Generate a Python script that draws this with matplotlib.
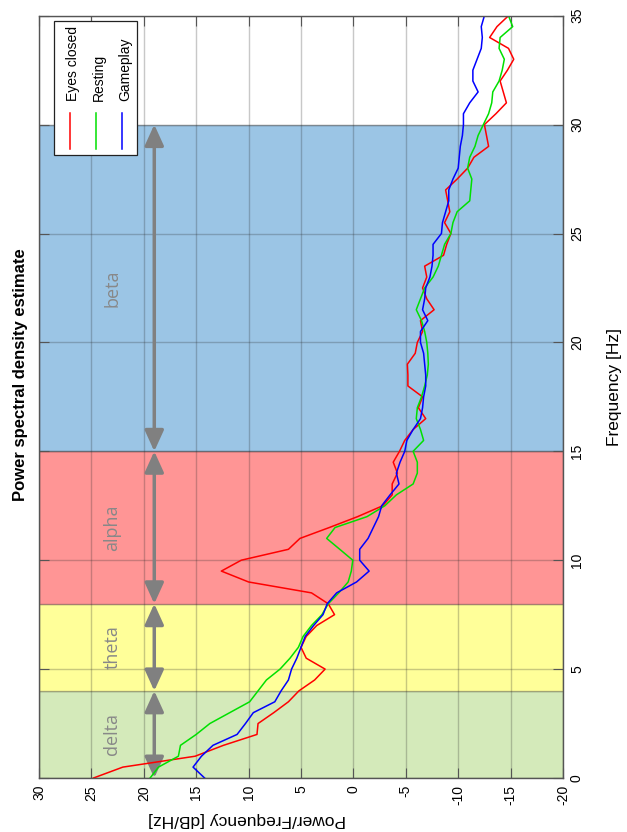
import numpy as np
import matplotlib
matplotlib.use('Agg')
import matplotlib.pyplot as plt
from matplotlib.patches import Rectangle
from matplotlib.lines import Line2D

plt.rcParams['font.family'] = ['Liberation Sans', 'DejaVu Sans']
plt.rcParams['axes.unicode_minus'] = False

# PSD estimates, 0.5 Hz bins, dB/Hz
freq = [0.0, 0.5, 1.0, 1.5, 2.0, 2.5, 3.0, 3.5, 4.0, 4.5,
        5.0, 5.5, 6.0, 6.5, 7.0, 7.5, 8.0, 8.5, 9.0, 9.5,
        10.0, 10.5, 11.0, 11.5, 12.0, 12.5, 13.0, 13.5, 14.0, 14.5,
        15.0, 15.5, 16.0, 16.5, 17.0, 17.5, 18.0, 18.5, 19.0, 19.5,
        20.0, 20.5, 21.0, 21.5, 22.0, 22.5, 23.0, 23.5, 24.0, 24.5,
        25.0, 25.5, 26.0, 26.5, 27.0, 27.5, 28.0, 28.5, 29.0, 29.5,
        30.0, 30.5, 31.0, 31.5, 32.0, 32.5, 33.0, 33.5, 34.0, 34.5, 35.0]

eyes_closed = [24.8, 22.0, 15.1, 12.4, 9.2, 9.1, 7.6, 6.2, 5.2, 3.7,
               2.7, 4.5, 5.0, 4.5, 3.5, 1.8, 2.4, 4.0, 10.0, 12.6,
               10.7, 6.2, 5.1, 2.3, -0.4, -2.8, -3.7, -3.7, -4.2, -3.8,
               -4.4, -4.9, -5.7, -6.9, -6.2, -6.6, -5.2, -5.2, -5.15, -5.9,
               -6.1, -6.6, -6.4, -7.7, -7.0, -6.6, -7.0, -6.8, -8.6, -8.9,
               -9.3, -8.7, -9.2, -9.0, -8.8, -9.9, -10.9, -11.5, -12.9, -12.7,
               -12.5, -13.6, -14.6, -14.3, -14.0, -14.7, -15.3, -14.8, -13.0, -13.7, -14.8]

resting = [19.4, 18.6, 16.7, 16.5, 15.0, 13.7, 11.8, 9.9, 9.1, 8.3,
           7.0, 6.05, 5.25, 4.8, 4.0, 3.0, 2.4, 1.4, 0.5, 0.2,
           0.06, 1.3, 2.55, 1.75, -1.3, -3.0, -4.1, -5.7, -6.1, -6.1,
           -5.7, -6.7, -6.4, -6.0, -6.1, -6.5, -6.8, -7.05, -7.15, -7.1,
           -7.0, -6.8, -6.5, -6.0, -6.4, -6.8, -7.6, -8.1, -8.4, -8.7,
           -9.3, -9.5, -9.9, -11.1, -11.2, -11.3, -10.9, -11.1, -11.6, -11.9,
           -12.4, -12.9, -13.2, -13.3, -13.9, -14.2, -14.4, -13.9, -14.0, -15.2, -14.8]

gameplay = [14.2, 15.3, 14.5, 13.4, 11.1, 10.3, 9.55, 7.5, 6.9, 6.2,
            5.9, 5.4, 5.0, 4.6, 3.8, 2.9, 2.5, 1.6, -0.3, -1.5,
            -0.6, -0.6, -1.4, -1.9, -2.4, -2.7, -3.5, -4.35, -4.1, -4.45,
            -4.9, -5.1, -5.7, -6.4, -6.6, -6.7, -6.9, -6.9, -6.8, -6.7,
            -6.4, -6.4, -7.1, -6.6, -6.8, -6.9, -7.3, -7.5, -7.6, -7.6,
            -8.4, -8.5, -8.8, -9.1, -9.1, -9.5, -10.0, -10.1, -10.2, -10.4,
            -10.5, -10.5, -11.1, -11.9, -11.4, -11.4, -11.8, -12.2, -12.3, -12.2, -12.5]

series_names = ['Eyes closed', 'Resting', 'Gameplay']
series_colors = ['#ff0000', '#00e000', '#0000ff']

band_names = ['delta', 'theta', 'alpha', 'beta']
band_edges = [0, 4, 8, 15, 30]
band_colors = ['#d4eaba', '#ffff99', '#ff9595', '#9bc5e5']

power_ticks = [30, 25, 20, 15, 10, 5, 0, -5, -10, -15, -20]
freq_ticks = [0, 5, 10, 15, 20, 25, 30, 35]

W, H = 627, 832


def fpos(x, y):
    # pixel position (from top-left) -> figure fraction
    return x / W, 1 - y / H


fig = plt.figure(figsize=(W / 100, H / 100), dpi=100)
ax = fig.add_axes([39 / W, 1 - 778 / H, 524 / W, 762.3 / H])

# frequency runs up the page, power runs right-to-left
for i, name in enumerate(band_names):
    lo, hi = band_edges[i], band_edges[i + 1]
    ax.axhspan(lo, hi, facecolor=band_colors[i], edgecolor=(0, 0, 0, 0.25), lw=1, zorder=1)
    ax.annotate('', xy=(19, hi), xytext=(19, lo),
                arrowprops=dict(arrowstyle='<|-|>, head_length=0.55, head_width=0.25',
                                color='#808080', lw=2.5, mutation_scale=23,
                                shrinkA=0, shrinkB=0), zorder=1.8)
    ax.text(23, (lo + hi) / 2, name, rotation=90, ha='center', va='center',
            color='#888888', fontsize=13, family=['Open Sans', 'DejaVu Sans'], zorder=1.8)

for vals, name, c in zip([eyes_closed, resting, gameplay], series_names, series_colors):
    ax.plot(vals, freq, color=c, lw=1.1, label=name, zorder=2)

ax.set_xlim(30, -20)
ax.set_ylim(0, 35)
ax.set_xticks(power_ticks)
ax.set_xticklabels([str(t) for t in power_ticks], rotation=90, fontsize=10)
ax.set_yticks(freq_ticks)
ax.set_yticklabels([str(t) for t in freq_ticks], rotation=90, fontsize=10, va='center')
ax.tick_params(direction='in', length=7, top=True, right=True, left=True, bottom=True,
               labelleft=False, labelright=True, color='#555555', pad=5)
ax.set_axisbelow('line')
ax.grid(True, color='#262626', alpha=0.25, lw=1)
for s in ax.spines.values():
    s.set_color('#555555')
    s.set_linewidth(1)
    s.set_zorder(3)

fig.text(*fpos(21, 375), 'Power spectral density estimate', rotation=90,
         ha='center', va='center', fontweight='bold', fontsize=12)
fig.text(*fpos(615, 387), 'Frequency [Hz]', rotation=90, ha='center', va='center', fontsize=12.5)
fig.text(*fpos(247, 820), 'Power/Frequency [dB/Hz]', rotation=180, ha='center', va='center',
         fontsize=12.5)

# legend box, drawn sideways like the rest of the plot
x0, y0 = fpos(54, 155)
x1, y1 = fpos(137, 21)
fig.add_artist(Rectangle((x0, y0), x1 - x0, y1 - y0, transform=fig.transFigure,
                         facecolor='white', edgecolor='#222222', lw=0.9, zorder=5))
for i, (name, c) in enumerate(zip(series_names, series_colors)):
    lx = 70 + 26 * i
    (ax1, ay1), (ax2, ay2) = fpos(lx, 149), fpos(lx, 113)
    fig.add_artist(Line2D([ax1, ax2], [ay1, ay2], transform=fig.transFigure,
                          color=c, lw=1.1, zorder=6))
    fig.text(*fpos(lx + 3, 101), name, rotation=90, ha='center', va='bottom',
             fontsize=10, zorder=6)

fig.savefig('out.png', dpi=100)
